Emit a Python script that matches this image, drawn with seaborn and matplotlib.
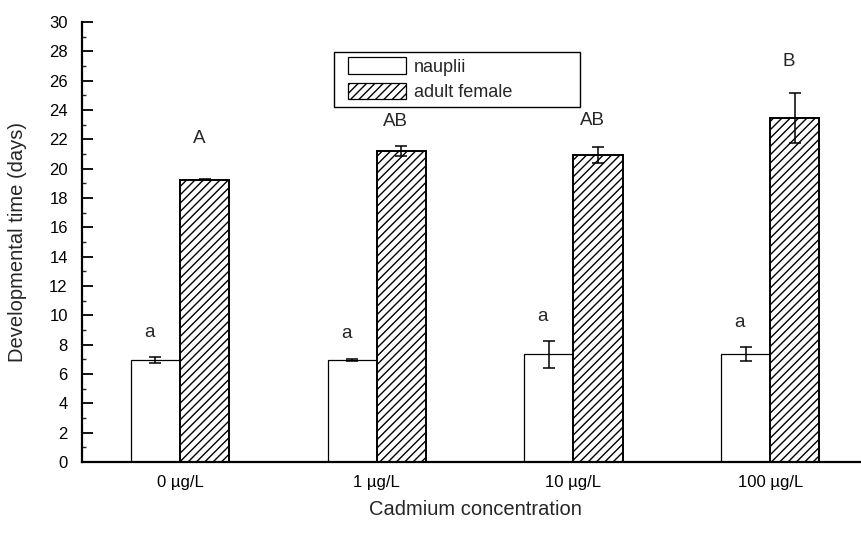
import matplotlib
matplotlib.use('Agg')
import matplotlib.pyplot as plt
import matplotlib.patches as mpatches
from matplotlib.legend_handler import HandlerPatch
from matplotlib.ticker import MultipleLocator
import seaborn as sns
import pandas as pd

# ---- data ----
concentrations = ['0 µg/L', '1 µg/L', '10 µg/L', '100 µg/L']
stages = ['nauplii', 'adult female']
nauplii_mean = [6.93, 6.93, 7.34, 7.34]
nauplii_err = [0.20, 0.07, 0.94, 0.48]
female_mean = [19.26, 21.18, 20.96, 23.45]
female_err = [0.05, 0.34, 0.55, 1.70]
nauplii_letters = ['a', 'a', 'a', 'a']
female_letters = ['A', 'AB', 'AB', 'B']
nauplii_letter_y = [8.84, 8.77, 9.90, 9.48]
female_letter_y = [22.06, 23.25, 23.30, 27.30]

df = pd.DataFrame({
    'concentration': concentrations * 2,
    'stage': [stages[0]] * 4 + [stages[1]] * 4,
    'time': nauplii_mean + female_mean,
})

sns.set_style('ticks')
plt.rcParams['font.family'] = ['Liberation Sans', 'DejaVu Sans']
plt.rcParams['hatch.linewidth'] = 1.0
plt.rcParams['hatch.color'] = 'black'

fig = plt.figure(figsize=(8.61, 5.36), dpi=100)
W, H = 861, 536
ax = fig.add_axes([81.7 / W, (H - 462) / H, 786.8 / W, 440 / H])

sns.barplot(data=df, x='concentration', y='time', hue='stage',
            order=concentrations, hue_order=stages,
            palette=['white', 'white'], edgecolor='black', width=0.5,
            errorbar=None, legend=False, ax=ax, zorder=2)

bar_conts = list(ax.containers)
errs = [nauplii_err, female_err]
letters = [nauplii_letters, female_letters]
letter_y = [nauplii_letter_y, female_letter_y]
for i, cont in enumerate(bar_conts):
    xs, ys = [], []
    for bar in cont.patches:
        bar.set_facecolor('white')
        bar.set_edgecolor('black')
        if i == 1:
            bar.set_hatch('////')
            bar.set_linewidth(1.4)
        else:
            bar.set_linewidth(0.9)
        xs.append(bar.get_x() + bar.get_width() / 2)
        ys.append(bar.get_height())
    ax.errorbar(xs, ys, yerr=errs[i], fmt='none', ecolor='black',
                elinewidth=1.1, capsize=4.3, capthick=1.1, zorder=3)
    for x, ly, t in zip(xs, letter_y[i], letters[i]):
        ax.text(x - 0.03, ly, t, ha='center', va='center', fontsize=13.5)

ax.set_xlim(-0.5, 3.5)
ax.set_ylim(0, 30)
ax.yaxis.set_major_locator(MultipleLocator(2))
ax.yaxis.set_minor_locator(MultipleLocator(1))
ax.tick_params(axis='y', which='major', direction='in', length=8, width=1.3,
               pad=10, labelsize=12, colors='black')
ax.tick_params(axis='y', which='minor', direction='in', length=3, width=1.0)
ax.tick_params(axis='x', which='both', length=0, pad=9, labelsize=12,
               colors='black')
for s in ['top', 'right']:
    ax.spines[s].set_visible(False)
for s in ['left', 'bottom']:
    ax.spines[s].set_linewidth(1.6)
    ax.spines[s].set_color('black')

ax.set_xlabel('Cadmium concentration', fontsize=14.5)
ax.set_ylabel('Developmental time (days)', fontsize=14.5)
ax.xaxis.set_label_coords(0.5, -0.086)
ax.yaxis.set_label_coords(-0.07, 0.5)


def shifted_rect(legend, orig_handle, xdescent, ydescent, width, height, fontsize):
    shift = 6.0
    return mpatches.Rectangle((-xdescent + shift, -ydescent), width - shift, height)


handles = [mpatches.Patch(facecolor='white', edgecolor='black', linewidth=0.9),
           mpatches.Patch(facecolor='white', edgecolor='black', linewidth=0.9,
                          hatch='////')]
leg = ax.legend(handles, stages, loc='upper left', mode='expand',
                bbox_to_anchor=(334 / W, 1 - 52 / H, 246 / W, 0.0),
                bbox_transform=fig.transFigure, borderaxespad=0,
                fontsize=13, handlelength=3.67, handleheight=1.0,
                handletextpad=0.44, labelspacing=0.4, borderpad=0.3,
                fancybox=False, framealpha=1, edgecolor='black',
                handler_map={mpatches.Patch: HandlerPatch(patch_func=shifted_rect)})
leg.get_frame().set_linewidth(1.0)

fig.savefig('out.png', dpi=100)
